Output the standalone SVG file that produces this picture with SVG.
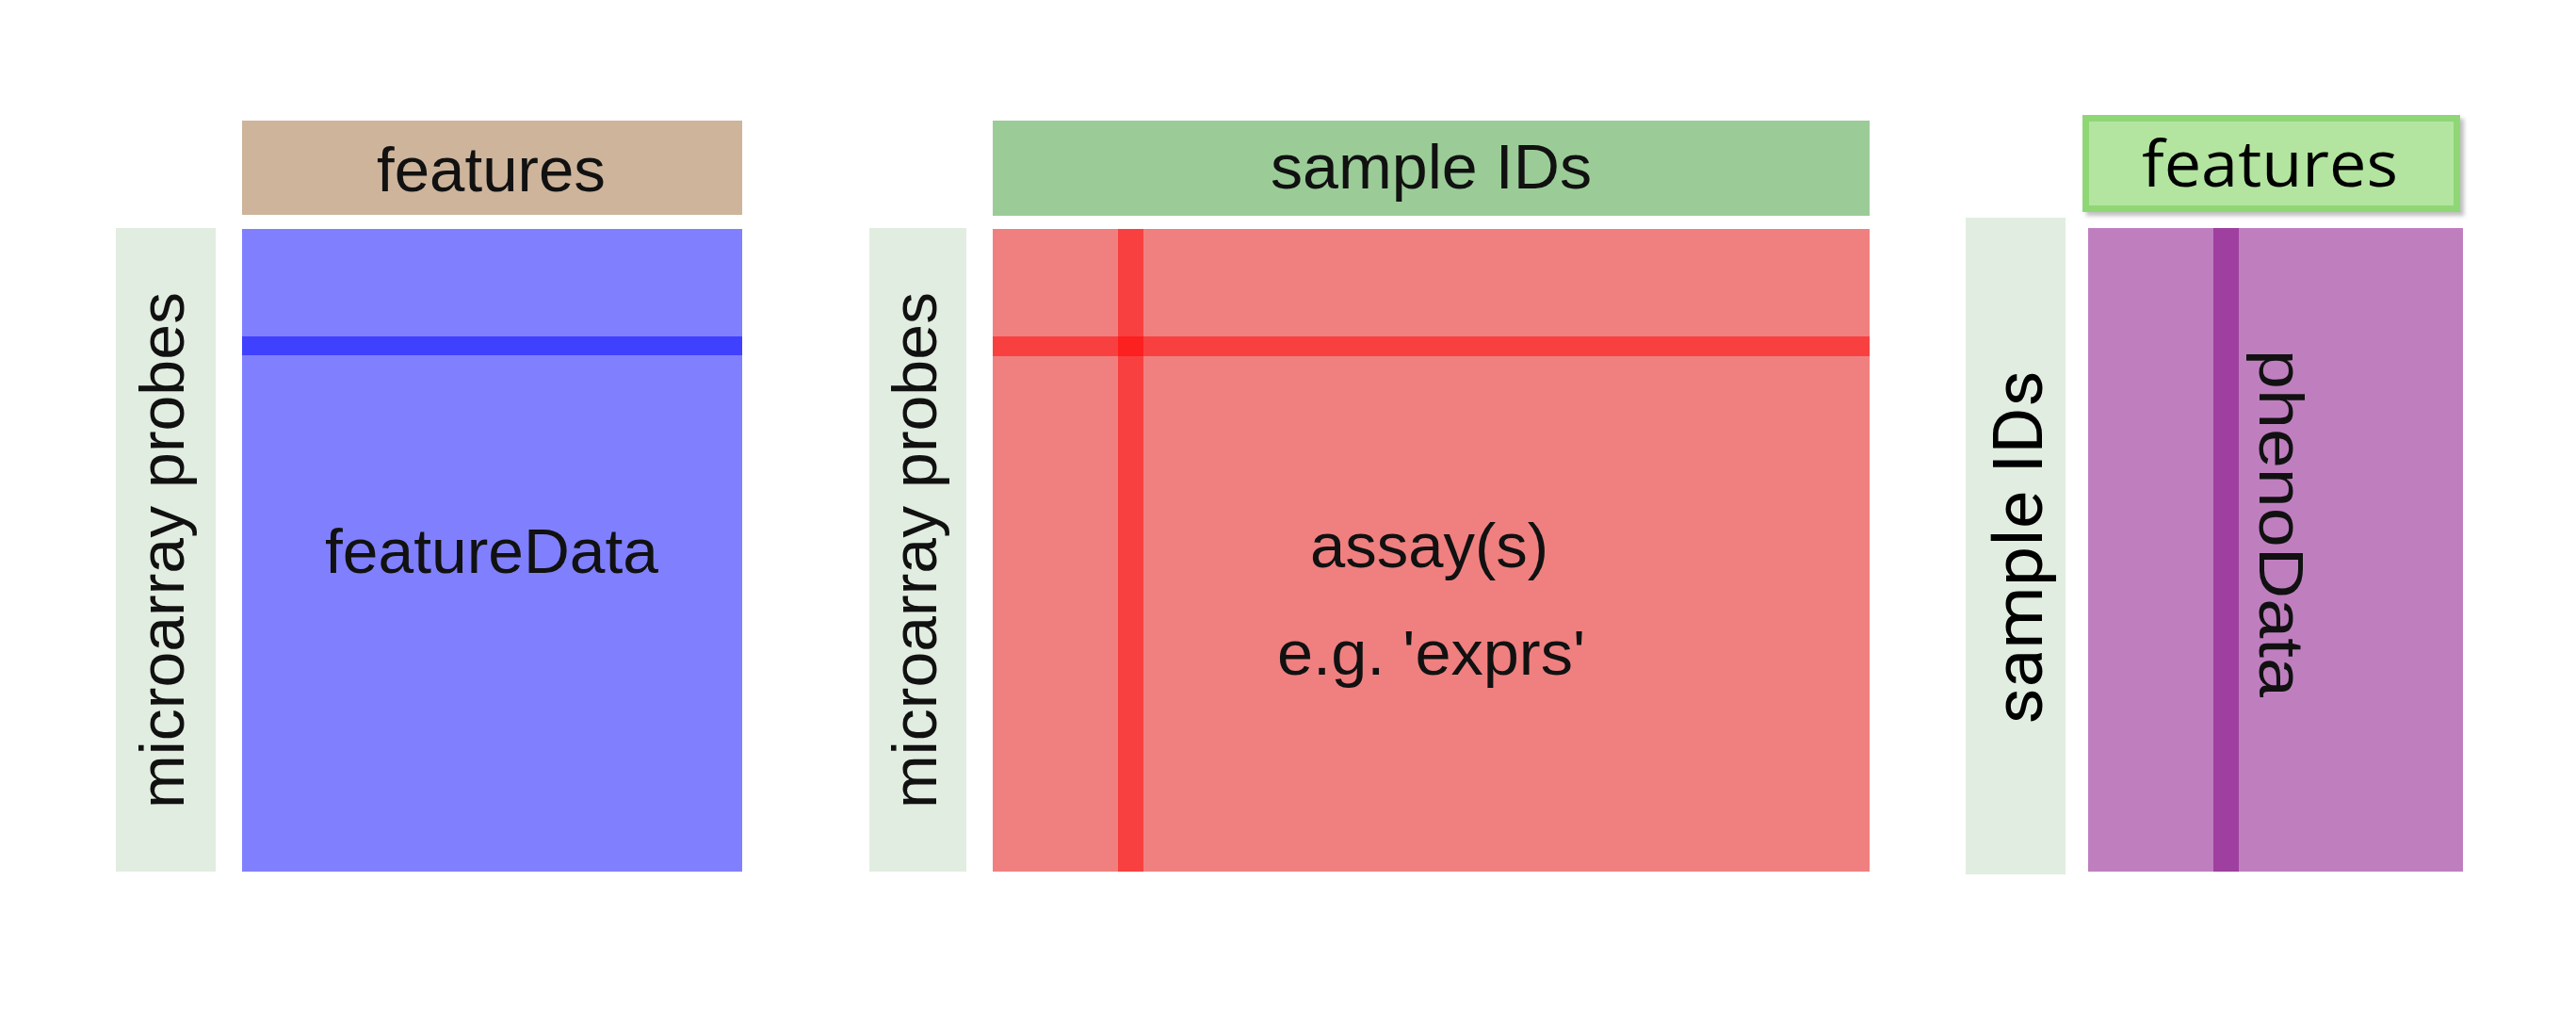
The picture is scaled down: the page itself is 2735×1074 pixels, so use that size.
<svg xmlns="http://www.w3.org/2000/svg" width="2735" height="1074" viewBox="0 0 2735 1074">
<style>
.lbl{fill:#e1ede0}
.t{font-family:"Liberation Sans",Arial,sans-serif;font-size:66px;fill:#111}
.t3{font-family:"Open Sans","Noto Sans",sans-serif;fill:#000}
.r{font-family:Roboto,"Liberation Sans",sans-serif;fill:#000}
</style>
<defs>
<filter id="sh" x="-10%" y="-20%" width="130%" height="150%">
<feDropShadow dx="4" dy="4" stdDeviation="2" flood-color="#000" flood-opacity="0.25"/>
</filter>
</defs>
<rect width="2735" height="1074" fill="#fff"/>
<g id="featureData-panel">
<rect x="257" y="128" width="531" height="100" fill="#cdb49b"/>
<text class="t" x="400" y="203" textLength="243" lengthAdjust="spacingAndGlyphs">features</text>
<rect class="lbl" x="123" y="242" width="106" height="683"/>
<text class="t" transform="translate(195,858) rotate(-90)" x="0" y="0" textLength="548" lengthAdjust="spacingAndGlyphs">microarray probes</text>
<rect x="257" y="243" width="531" height="682" fill="#8080ff"/>
<rect x="257" y="357" width="531" height="20" fill="#0000ff" fill-opacity="0.5"/>
<text class="t" x="345" y="608" textLength="354" lengthAdjust="spacingAndGlyphs">featureData</text>
</g>
<g id="assay-panel">
<rect x="1054" y="128" width="931" height="101" fill="#9bcc98"/>
<text class="t" x="1349" y="200" textLength="341" lengthAdjust="spacingAndGlyphs">sample IDs</text>
<rect class="lbl" x="923" y="242" width="103" height="683"/>
<text class="t" transform="translate(994,858) rotate(-90)" x="0" y="0" textLength="548" lengthAdjust="spacingAndGlyphs">microarray probes</text>
<rect x="1054" y="243" width="931" height="682" fill="#f08080"/>
<rect x="1187" y="243" width="27" height="682" fill="#ff0000" fill-opacity="0.5"/>
<rect x="1054" y="357" width="931" height="21" fill="#ff0000" fill-opacity="0.5"/>
<text class="t" x="1391" y="602" textLength="253" lengthAdjust="spacingAndGlyphs">assay(s)</text>
<text class="t" x="1356" y="716" textLength="327" lengthAdjust="spacingAndGlyphs">e.g. 'exprs'</text>
</g>
<g id="phenoData-panel">
<rect x="2214.5" y="125.5" width="394" height="96" fill="#b3e5a1" stroke="#8fd775" stroke-width="7" filter="url(#sh)"/>
<text class="t3" x="2274" y="198" font-size="68" textLength="272" lengthAdjust="spacingAndGlyphs">features</text>
<rect class="lbl" x="2087" y="231" width="106" height="697"/>
<text class="r" transform="translate(2168,769) rotate(-90)" x="0" y="0" font-size="72" textLength="376" lengthAdjust="spacingAndGlyphs">sample IDs</text>
<rect x="2217" y="242" width="398" height="683" fill="#bf7fbf"/>
<rect x="2350" y="242" width="27" height="683" fill="#800080" fill-opacity="0.5"/>
<text class="t" transform="translate(2399,371) rotate(90)" x="0" y="0" font-size="72" textLength="369" lengthAdjust="spacingAndGlyphs">phenoData</text>
</g>
<g id="connectors"/>
</svg>
